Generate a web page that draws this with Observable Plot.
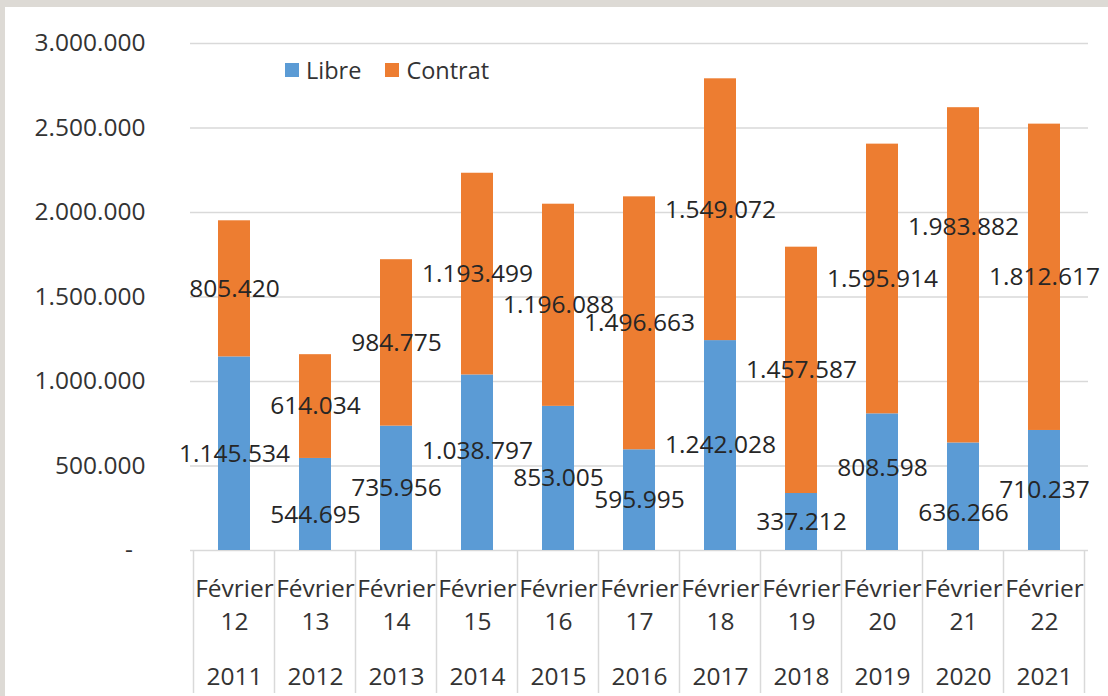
<!DOCTYPE html>
<html><head><meta charset="utf-8">
<script src="https://cdn.jsdelivr.net/npm/d3@7"></script>
<script src="https://cdn.jsdelivr.net/npm/@observablehq/plot@0.6"></script>
<style>
html,body{margin:0;padding:0;background:#dddad5;width:1108px;height:696px;overflow:hidden;}
#frame{position:absolute;left:5px;top:7px;width:1103px;height:689px;background:#fff;}
#chart{position:absolute;left:0;top:0;}
#legend{position:absolute;left:285px;top:54px;font:23.5px "Open Sans",sans-serif;color:#333;display:flex;align-items:center;white-space:nowrap;}
#legend .sw{display:inline-block;width:14px;height:14px;margin-right:7px;}
#legend .item{display:flex;align-items:center;margin-right:24px;}
</style></head>
<body>
<div id="frame"></div>
<div id="chart"></div>
<div id="legend"></div>
<script>
const years = ["2011","2012","2013","2014","2015","2016","2017","2018","2019","2020","2021"];
const periods = ["12","13","14","15","16","17","18","19","20","21","22"];
const monthLabel = "Février";
const libre = [1145534, 544695, 735956, 1038797, 853005, 595995, 1242028, 337212, 808598, 636266, 710237];
const contrat = [805420, 614034, 984775, 1193499, 1196088, 1496663, 1549072, 1457587, 1595914, 1983882, 1812617];
const seriesNames = ["Libre", "Contrat"];
const seriesColors = ["#5B9BD5", "#ED7D31"];
const yTicks = [0, 500000, 1000000, 1500000, 2000000, 2500000, 3000000];

// label nudges (pixels) as in the original chart's manual label placement
const labelNudges = [
  {year: "2012", series: "Libre", dy: 11},
  {year: "2014", series: "Libre", dy: -12},
  {year: "2019", series: "Libre", dy: -14},
  {year: "2020", series: "Libre", dy: 16},
  {year: "2020", series: "Contrat", dy: -48}
];

const fmt = d3.formatLocale({decimal: ",", thousands: ".", grouping: [3], currency: ["", ""]}).format(",d");

const data = [];
years.forEach((y, i) => {
  data.push({year: y, series: "Libre", value: libre[i]});
  data.push({year: y, series: "Contrat", value: contrat[i]});
});

const nudgeOf = d => {
  const n = labelNudges.find(e => e.year === d.year && e.series === d.series);
  return n ? n.dy : 0;
};

const separators = (index, scales, values, dim) => {
  const xs = scales.x;
  const g = d3.create("svg:g");
  const step = typeof xs.step === "function" ? xs.step() : (dim.width - dim.marginLeft - dim.marginRight) / years.length;
  const bw = typeof xs.bandwidth === "function" ? xs.bandwidth() : step * 0.4;
  const y0 = dim.height - dim.marginBottom;
  const y1 = dim.height - 3;
  const xsPos = years.map(c => xs(c) - (step - bw) / 2);
  xsPos.push(xs(years[years.length - 1]) + bw + (step - bw) / 2);
  xsPos.forEach(x => {
    g.append("line").attr("x1", x).attr("x2", x).attr("y1", y0).attr("y2", y1)
      .attr("stroke", "#d9d9d9").attr("stroke-width", 1.5);
  });
  return g.node();
};

const labelStyle = {fontSize: 24.5, fill: "#262626"};
const nudgeValues = Array.from(new Set([0, ...labelNudges.map(n => n.dy)]));
const labelMarks = nudgeValues.map(dy =>
  Plot.text(data, Plot.stackY({
    x: "year", y: "value", z: "series", order: seriesNames,
    text: d => nudgeOf(d) === dy ? fmt(d.value) : "",
    dy, ...labelStyle
  }))
);

const chart = Plot.plot({
  width: 1108,
  height: 696,
  marginLeft: 190,
  marginRight: 20,
  marginTop: 43,
  marginBottom: 146,
  style: {background: "none", fontFamily: "'Open Sans', sans-serif", color: "#333"},
  x: {domain: years, paddingInner: 0.6, paddingOuter: 0.3},
  y: {domain: [0, 3000000]},
  color: {domain: seriesNames, range: seriesColors},
  marks: [
    Plot.gridY(yTicks, {stroke: "#d9d9d9", strokeOpacity: 1, strokeWidth: 1.5}),
    Plot.axisY(yTicks, {tickSize: 0, tickPadding: 45, fontSize: 24.5, fill: "#333",
      tickFormat: d => d === 0 ? "-\u00a0\u00a0" : fmt(d), label: null}),
    Plot.barY(data, {x: "year", y: "value", fill: "series", order: seriesNames}),
    ...labelMarks,
    Plot.axisX({tickSize: 0, tickPadding: 23, fontSize: 24.5, fill: "#333", label: null,
      tickFormat: d => monthLabel + "\n" + periods[years.indexOf(d)], lineHeight: 1.35}),
    Plot.axisX({tickSize: 0, tickPadding: 117, fontSize: 24.5, fill: "#333", label: null}),
    separators
  ]
});
document.getElementById("chart").appendChild(chart);

const legend = d3.select("#legend");
seriesNames.forEach((s, i) => {
  const it = legend.append("div").attr("class", "item");
  it.append("span").attr("class", "sw").style("background", seriesColors[i]);
  it.append("span").text(s);
});
</script>
</body></html>
